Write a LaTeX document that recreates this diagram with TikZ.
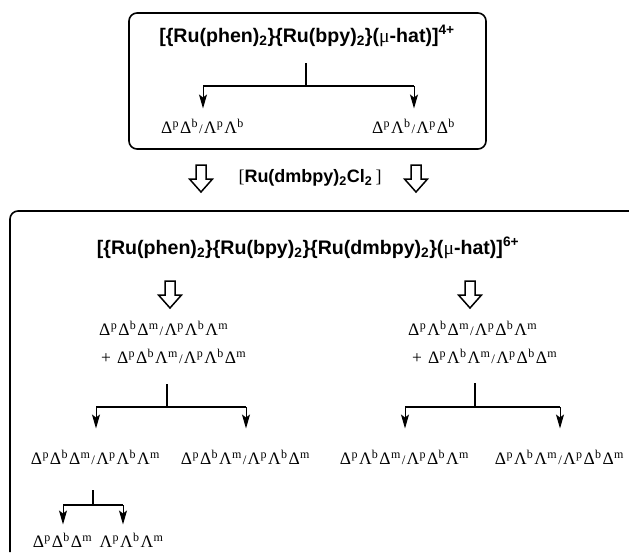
\documentclass[tikz,border=0pt]{standalone}
\usepackage{fontspec}
\setmainfont{Liberation Serif}
\setsansfont{Liberation Sans}
\usetikzlibrary{arrows.meta, positioning}

\newcommand{\up}[1]{\raisebox{6pt}{\fontsize{12}{12}\selectfont #1}}
\newcommand{\gD}[1]{Δ\kern0.3pt\up{#1}\kern1.5pt}
\newcommand{\gL}[1]{Λ\kern0.3pt\up{#1}\kern1.5pt}
\newcommand{\slh}{{\fontsize{13}{13}\selectfont /}\kern1.2pt}
\newcommand{\ru}[1]{\{Ru(#1)\textsubscript{2}\}}
\newcommand{\mub}{{\rmfamily\mdseries μ}}

\begin{document}
\begin{tikzpicture}[x=1pt, y=-1pt,
    cplx/.style={font=\sffamily\bfseries\fontsize{19.6}{22}\selectfont, inner sep=0pt},
    iso/.style={font=\fontsize{17.5}{19}\selectfont, inner sep=0pt, anchor=base},
    boxline/.style={line width=1.6pt, rounded corners=8pt},
    stem/.style={line width=1.3pt},
    rail/.style={line width=2.2pt},
    drop/.style={line width=1pt, -{Stealth[length=14pt, width=8pt, inset=3pt]}},
    openarrow/.pic={\draw[line width=1.5pt] (-5,0) -- (5,0) -- (5,14) -- (11.5,14) -- (0,27) -- (-11.5,14) -- (-5,14) -- cycle;},
]
\useasboundingbox (0,0) rectangle (629,552);

% first complex
\draw[boxline] (129,13) rectangle (486,149);
\node[cplx] (hat4) at (307,36) {[\ru{phen}\ru{bpy}(\mub-hat)]\textsuperscript{4+}};
\node[iso] (DD) at (203,133) {\gD{p}\gD{b}\slh\gL{p}\gL{b}};
\node[iso] (DL) at (414,133) {\gD{p}\gL{b}\slh\gL{p}\gD{b}};
\coordinate (t0) at (306,63);
\coordinate (f0) at (306,86);
\draw[stem] (t0) -- (f0);
\draw[rail, line width=1.4pt] (f0 -| DD) -- (f0 -| DL);
\draw[drop, shorten >=10pt] (f0 -| DD) -- (DD.north);
\draw[drop, shorten >=10pt] (f0 -| DL) -- (DL.north);

% reagent
\pic at (201,165) {openarrow};
\pic at (416,165) {openarrow};
\node[cplx, font=\sffamily\bfseries\fontsize{18}{20}\selectfont] (dmb) at (310,178) {{\rmfamily\mdseries[}Ru(dmbpy)\textsubscript{2}Cl\textsubscript{2}{\rmfamily\mdseries\,]}};

% second complex
\draw[boxline] (10,552) |- (629,211);
\node[cplx] (hat6) at (308,248) {[\ru{phen}\ru{bpy}\ru{dmbpy}(\mub-hat)]\textsuperscript{6+}};
\pic at (170,281) {openarrow};
\pic at (470,281) {openarrow};
\node[iso, anchor=base west] (DDx) at (99,335) {\gD{p}\gD{b}\gD{m}\slh\gL{p}\gL{b}\gL{m}};
\node[iso, anchor=base west] (DDy) at (101,363) {+\hspace{6pt}\gD{p}\gD{b}\gL{m}\slh\gL{p}\gL{b}\gD{m}};
\node[iso, anchor=base west] (DLx) at (408,335) {\gD{p}\gL{b}\gD{m}\slh\gL{p}\gD{b}\gL{m}};
\node[iso, anchor=base west] (DLy) at (412,363) {+\hspace{6pt}\gD{p}\gL{b}\gL{m}\slh\gL{p}\gD{b}\gD{m}};

\node[iso] (DDD) at (96,464) {\gD{p}\gD{b}\gD{m}\slh\gL{p}\gL{b}\gL{m}};
\node[iso] (DDL) at (246,464) {\gD{p}\gD{b}\gL{m}\slh\gL{p}\gL{b}\gD{m}};
\node[iso] (DLD) at (405,464) {\gD{p}\gL{b}\gD{m}\slh\gL{p}\gD{b}\gL{m}};
\node[iso] (DLL) at (560,464) {\gD{p}\gL{b}\gL{m}\slh\gL{p}\gD{b}\gD{m}};

\coordinate (t1) at (167,384);
\coordinate (f1) at (167,407);
\draw[stem] (t1) -- (f1);
\draw[rail] (f1 -| DDD) -- (f1 -| DDL);
\draw[drop, shorten >=21pt] (f1 -| DDD) -- (DDD.north);
\draw[drop, shorten >=21pt] (f1 -| DDL) -- (DDL.north);

\coordinate (t2) at (475,383);
\coordinate (f2) at (475,407);
\draw[stem] (t2) -- (f2);
\draw[rail] (f2 -| DLD) -- (f2 -| DLL);
\draw[drop, shorten >=21pt] (f2 -| DLD) -- (DLD.north);
\draw[drop, shorten >=21pt] (f2 -| DLL) -- (DLL.north);

% enantiomers
\node[iso] (DDDe) at (63,547) {\gD{p}\gD{b}\gD{m}};
\node[iso, right=6pt of DDDe] (LLLe) {\gL{p}\gL{b}\gL{m}};
\coordinate (t3) at (93,490);
\coordinate (f3) at (93,505);
\coordinate (e3) at (123,505);
\draw[stem] (t3) -- (f3);
\draw[rail] (f3 -| DDDe) -- (e3);
\draw[drop, shorten >=8pt] (f3 -| DDDe) -- (DDDe.north);
\draw[drop, shorten >=8pt] (e3) -- (e3 |- LLLe.north);
\end{tikzpicture}
\end{document}
